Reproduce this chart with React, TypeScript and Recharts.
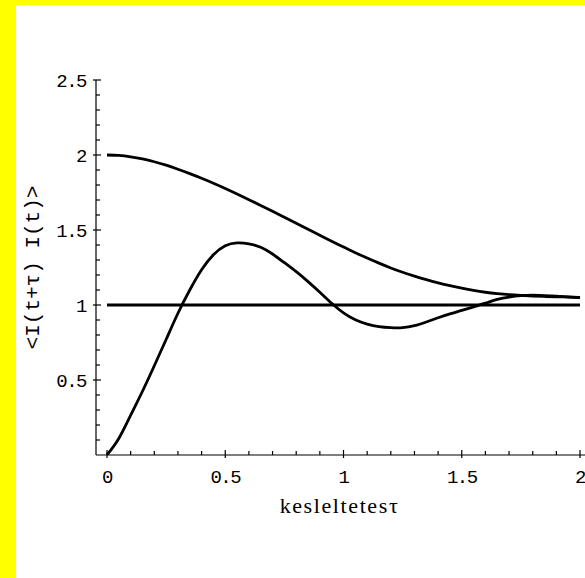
import React from 'react';
import { LineChart, Line, XAxis, YAxis, Label } from 'recharts';

const tau = [0, 0.05, 0.1, 0.15, 0.2, 0.25, 0.3, 0.35, 0.4, 0.45, 0.5, 0.55, 0.6, 0.65, 0.7, 0.75, 0.8, 0.85, 0.9, 0.95, 1.0, 1.05, 1.1, 1.15, 1.2, 1.25, 1.3, 1.35, 1.4, 1.45, 1.5, 1.55, 1.6, 1.65, 1.7, 1.75, 1.8, 1.85, 1.9, 1.95, 2.0];
const upperCurve = [2.0, 1.997, 1.988, 1.974, 1.955, 1.932, 1.905, 1.876, 1.845, 1.812, 1.777, 1.74, 1.702, 1.664, 1.625, 1.585, 1.545, 1.505, 1.465, 1.425, 1.386, 1.349, 1.313, 1.279, 1.247, 1.218, 1.192, 1.169, 1.148, 1.129, 1.112, 1.097, 1.085, 1.076, 1.069, 1.064, 1.06, 1.057, 1.055, 1.053, 1.05];
const oscCurve = [0, 0.11, 0.265, 0.425, 0.595, 0.77, 0.945, 1.1, 1.235, 1.335, 1.395, 1.414, 1.408, 1.385, 1.34, 1.282, 1.222, 1.156, 1.085, 1.012, 0.948, 0.902, 0.873, 0.856, 0.849, 0.849, 0.862, 0.887, 0.915, 0.941, 0.964, 0.988, 1.012, 1.037, 1.053, 1.062, 1.065, 1.063, 1.059, 1.054, 1.049];
const flatTau = [0, 2];
const flatValue = [1, 1];

const xTicks = [0, 0.1, 0.2, 0.3, 0.4, 0.5, 0.6, 0.7, 0.8, 0.9, 1, 1.1, 1.2, 1.3, 1.4, 1.5, 1.6, 1.7, 1.8, 1.9, 2];
const yTicks = [0.1, 0.2, 0.3, 0.4, 0.5, 0.6, 0.7, 0.8, 0.9, 1, 1.1, 1.2, 1.3, 1.4, 1.5, 1.6, 1.7, 1.8, 1.9, 2, 2.1, 2.2, 2.3, 2.4, 2.5];
const xLabelTicks = [0, 0.5, 1, 1.5, 2];
const yLabelTicks = [0.5, 1, 1.5, 2, 2.5];
const xTitle = 'kesleltetesτ';
const yTitle = '<I(t+τ) I(t)>';

const data = tau.map((t, i) => ({ t, upper: upperCurve[i], osc: oscCurve[i] }));
const flatData = flatTau.map((t, i) => ({ t, v: flatValue[i] }));

const isIn = (arr: number[], v: number) => arr.some((m) => Math.abs(m - v) < 1e-9);
const fmt = (v: number) => String(Math.round(v * 10) / 10);

const tickFont = { fontFamily: '"Liberation Mono", monospace', fontSize: 19, letterSpacing: -1.5, fill: '#000' };
const TS = '#000';
const TW = 1.2;

const BottomTick = (props: any) => {
  const { x, y, payload } = props;
  const major = isIn(xLabelTicks, payload.value);
  return (
    <g>
      <line x1={x} x2={x} y1={y + (major ? 3 : 0)} y2={y - (major ? 5 : 4)} stroke={TS} strokeWidth={TW} />
      {major && (
        <text x={x} y={y + 28} textAnchor="middle" {...tickFont}>{fmt(payload.value)}</text>
      )}
    </g>
  );
};

const TopTick = (props: any) => {
  const { x, y, payload } = props;
  const major = isIn(xLabelTicks, payload.value);
  return <line x1={x} x2={x} y1={y} y2={y + (major ? 5 : 4)} stroke={TS} strokeWidth={TW} />;
};

const LeftTick = (props: any) => {
  const { x, y, payload } = props;
  const major = isIn(yLabelTicks, payload.value);
  return (
    <g>
      <line x1={x - (major ? 3 : 0)} x2={x + (major ? 5 : 4)} y1={y} y2={y} stroke={TS} strokeWidth={TW} />
      {major && (
        <text x={x - 10} y={y} dy="0.36em" textAnchor="end" {...tickFont}>{fmt(payload.value)}</text>
      )}
    </g>
  );
};

const RightTick = (props: any) => {
  const { x, y, payload } = props;
  const major = isIn(yLabelTicks, payload.value);
  return <line x1={x} x2={x - (major ? 5 : 4)} y1={y} y2={y} stroke={TS} strokeWidth={TW} />;
};

const renderYTitle = (p: any) => {
  const vb = p.viewBox;
  const cx = vb.x + 17;
  const cy = vb.y + vb.height / 2;
  return (
    <text x={cx} y={cy} transform={`rotate(-90 ${cx} ${cy})`} textAnchor="middle" dominantBaseline="central"
      fontFamily='"Liberation Mono", monospace' fontSize={21} fill="#000">
      {yTitle}
    </text>
  );
};

const renderXTitle = (p: any) => {
  const vb = p.viewBox;
  const cx = vb.x + vb.width / 2 - 3;
  const by = vb.y + 58;
  return (
    <text x={cx} y={by} textAnchor="middle" fontFamily='"Liberation Serif", serif' fontSize={22} letterSpacing={1.6} fill="#000">
      {xTitle}
    </text>
  );
};

export default function App() {
  const xDomain: [number, number] = [-0.0465, 2.038];
  return (
    <div style={{ position: 'fixed', left: 0, top: 0, width: 585, height: 578, background: '#fff', overflow: 'hidden' }}>
      <div style={{ position: 'absolute', left: 0, top: 0, width: 16, height: 578, background: '#ffff00' }} />
      <div style={{ position: 'absolute', left: 0, top: 0, width: 585, height: 5, background: '#ffff00' }} />
      <div style={{ position: 'absolute', left: 16, top: 5 }}>
        <LineChart width={585} height={573} data={data} margin={{ top: 75, right: 12, bottom: 63, left: 0 }}>
          <XAxis xAxisId="bottom" dataKey="t" type="number" domain={xDomain} allowDataOverflow ticks={xTicks}
            interval={0} height={60} tickSize={0} tickMargin={0} tickLine={false} tick={<BottomTick />}
            axisLine={{ stroke: TS, strokeWidth: TW }}>
            <Label content={renderXTitle} />
          </XAxis>
          <XAxis xAxisId="top" orientation="top" dataKey="t" type="number" domain={xDomain} allowDataOverflow ticks={xTicks}
            interval={0} height={0} tickSize={0} tickMargin={0} tickLine={false} tick={<TopTick />}
            axisLine={{ stroke: TS, strokeWidth: TW }} />
          <YAxis yAxisId="left" type="number" domain={[0, 2.5]} allowDataOverflow ticks={yTicks} interval={0}
            width={80} tickSize={0} tickMargin={0} tickLine={false} tick={<LeftTick />}
            axisLine={{ stroke: TS, strokeWidth: TW }}>
            <Label content={renderYTitle} />
          </YAxis>
          <YAxis yAxisId="right" orientation="right" type="number" domain={[0, 2.5]} allowDataOverflow ticks={yTicks}
            interval={0} width={0} tickSize={0} tickMargin={0} tickLine={false} tick={<RightTick />}
            axisLine={{ stroke: TS, strokeWidth: TW }} />
          <Line xAxisId="bottom" yAxisId="left" data={flatData} dataKey="v" type="linear" stroke="#000" strokeWidth={3}
            dot={false} activeDot={false} isAnimationActive={false} />
          <Line xAxisId="bottom" yAxisId="left" dataKey="upper" type="natural" stroke="#000" strokeWidth={2.8}
            dot={false} activeDot={false} isAnimationActive={false} />
          <Line xAxisId="bottom" yAxisId="left" dataKey="osc" type="natural" stroke="#000" strokeWidth={2.8}
            dot={false} activeDot={false} isAnimationActive={false} />
        </LineChart>
      </div>
    </div>
  );
}
